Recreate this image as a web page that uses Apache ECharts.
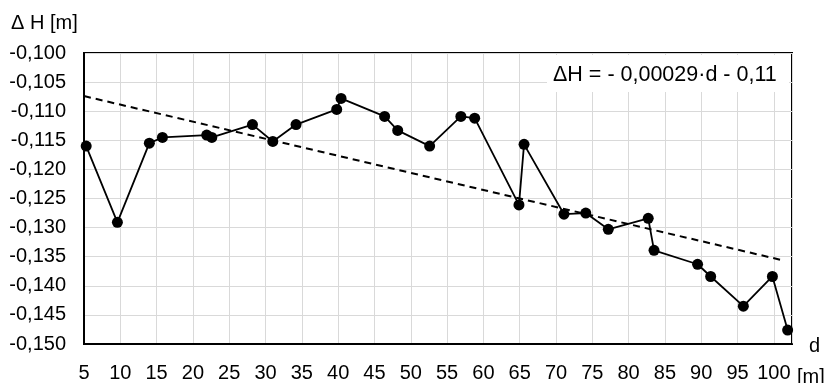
<!DOCTYPE html>
<html>
<head>
<meta charset="utf-8">
<script src="https://cdn.jsdelivr.net/npm/echarts@6/dist/echarts.min.js"></script>
<style>
html,body{margin:0;padding:0;background:#fff;}
#chart{width:827px;height:383px;}
</style>
</head>
<body>
<div id="chart"></div>
<script>
// distance d [m]
var distances = [5.3, 9.6, 14.0, 15.8, 21.9, 22.6, 28.2, 31.0, 34.2, 39.8, 40.4, 46.4, 48.2, 52.6, 56.9, 58.8, 64.9, 65.6, 71.1, 74.1, 77.2, 82.7, 83.5, 89.5, 91.3, 95.8, 99.8, 101.9];
// height difference ΔH [m]
var deltaH = [-0.1160, -0.1291, -0.1155, -0.1145, -0.1141, -0.1145, -0.1123, -0.1152, -0.1123, -0.1097, -0.1078, -0.1109, -0.1133, -0.1160, -0.1109, -0.1112, -0.1261, -0.1157, -0.1277, -0.1275, -0.1303, -0.1284, -0.1339, -0.1363, -0.1384, -0.1435, -0.1384, -0.1476];
// linear trend line endpoints
var trendD = [5, 101.5];
var trendH = [-0.1074, -0.1357];
var equationText = 'ΔH = - 0,00029·d - 0,11';
var yTitle = 'Δ H [m]';
var xTitle = 'd';
var xUnit = '[m]';

var mainData = distances.map(function (d, i) { return [d, deltaH[i]]; });
var trendData = trendD.map(function (d, i) { return [d, trendH[i]]; });

var FONT = 'Liberation Sans, Arial, sans-serif';
var chart = echarts.init(document.getElementById('chart'), null, {renderer: 'canvas'});
chart.setOption({
  animation: false,
  backgroundColor: '#fff',
  grid: {left: 84, right: 35, top: 53, bottom: 37, show: true, borderColor: '#000', borderWidth: 2, backgroundColor: 'transparent'},
  xAxis: {
    type: 'value', min: 5, max: 102.5, interval: 5,
    axisLine: {show: true, lineStyle: {color: '#000', width: 2}},
    axisTick: {show: false},
    splitLine: {show: true, lineStyle: {color: '#d9d9d9', width: 1}},
    axisLabel: {
      color: '#000', fontFamily: FONT, fontSize: 20, margin: 19,
      showMaxLabel: false,
      formatter: function (v) { return v > 100.1 ? '' : String(Math.round(v)); }
    }
  },
  yAxis: {
    type: 'value', min: -0.15, max: -0.1, interval: 0.005,
    axisLine: {show: true, onZero: false, lineStyle: {color: '#000', width: 2}},
    axisTick: {show: false},
    splitLine: {show: true, lineStyle: {color: '#d9d9d9', width: 1}},
    axisLabel: {
      color: '#000', fontFamily: FONT, fontSize: 20, margin: 18,
      formatter: function (v) { return v.toFixed(3).replace('.', ','); }
    }
  },
  graphic: [
    {type: 'rect', z: 50, shape: {x: 547, y: 55, width: 242, height: 37}, style: {fill: '#fff'}},
    {type: 'text', z: 51, left: 553, top: 64, style: {text: equationText, fontFamily: FONT, fontSize: 21.5, fill: '#000'}},
    {type: 'text', left: 11, top: 13, style: {text: yTitle, fontFamily: FONT, fontSize: 20, fill: '#000'}},
    {type: 'text', left: 809, top: 336, style: {text: xTitle, fontFamily: FONT, fontSize: 20, fill: '#000'}},
    {type: 'text', left: 797, top: 367, style: {text: xUnit, fontFamily: FONT, fontSize: 20, fill: '#000'}}
  ],
  series: [
    {
      type: 'line', data: trendData, symbol: 'none', z: 3,
      lineStyle: {color: '#000', width: 2, type: [7, 5]}
    },
    {
      type: 'line', data: mainData, symbol: 'circle', symbolSize: 11, z: 4,
      itemStyle: {color: '#000'},
      lineStyle: {color: '#000', width: 1.8}
    }
  ]
});
</script>
</body>
</html>
